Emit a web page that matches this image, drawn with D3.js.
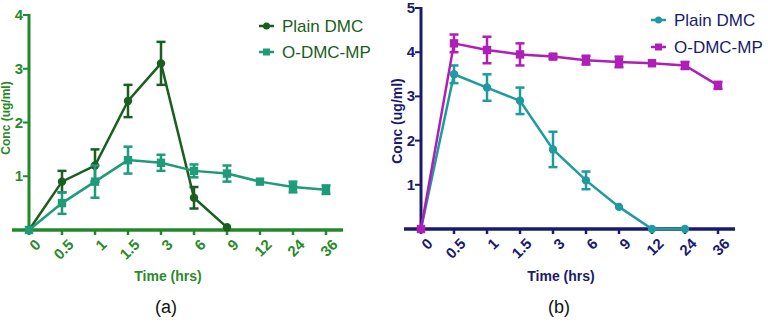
<!DOCTYPE html>
<html>
<head>
<meta charset="utf-8">
<script src="https://cdn.jsdelivr.net/npm/d3@7"></script>
<style>
  body { margin: 0; background: #fff; }
  svg { display: block; font-family: Arial, "Liberation Sans", sans-serif; }
</style>
</head>
<body>
<svg width="768" height="323"></svg>
<script>
// time points (category axis, not linear)
const timeLabels = ["0", "0.5", "1", "1.5", "3", "6", "9", "12", "24", "36"];

// panel (a)
const aPlain = [0, 0.9, 1.2, 2.4, 3.1, 0.6, 0.05];
const aPlainErr = [0, 0.2, 0.3, 0.3, 0.4, 0.2, 0];
const aOdmc = [0, 0.5, 0.9, 1.3, 1.25, 1.1, 1.05, 0.9, 0.8, 0.75];
const aOdmcErr = [0, 0.2, 0.3, 0.25, 0.15, 0.12, 0.15, 0.03, 0.1, 0.08];
const aTicks = [1, 2, 3, 4];

// panel (b)
const bPlain = [0, 3.5, 3.2, 2.9, 1.8, 1.1, 0.5, 0, 0];
const bPlainErr = [0, 0.2, 0.3, 0.3, 0.4, 0.2, 0, 0, 0];
const bOdmc = [0, 4.2, 4.05, 3.95, 3.9, 3.82, 3.78, 3.75, 3.7, 3.25];
const bOdmcErr = [0, 0.2, 0.3, 0.25, 0.05, 0.1, 0.12, 0.03, 0.08, 0.08];
const bTicks = [1, 2, 3, 4, 5];

const svg = d3.select("svg");

function drawPanel(cfg) {
  const g = svg.append("g");
  const x = d3.scalePoint().domain(timeLabels).range(cfg.xRange);
  const y = d3.scaleLinear().domain([0, cfg.yMax]).range(cfg.yRange);
  const x0 = x(timeLabels[0]), x9 = x(timeLabels[timeLabels.length - 1]);

  // y axis
  g.append("line")
    .attr("x1", x0).attr("x2", x0)
    .attr("y1", y(0)).attr("y2", y(cfg.yMax) - 1)
    .attr("stroke", cfg.axis).attr("stroke-width", 3);
  cfg.ticks.forEach((t) => {
    g.append("line")
      .attr("x1", x0 - 6).attr("x2", x0)
      .attr("y1", y(t)).attr("y2", y(t))
      .attr("stroke", cfg.axis).attr("stroke-width", 2);
    g.append("text")
      .attr("x", x0 - 6).attr("y", y(t) + 5)
      .attr("text-anchor", "end")
      .attr("font-size", 15).attr("font-weight", "bold")
      .attr("fill", cfg.tickText)
      .text(t);
  });

  // x axis
  g.append("line")
    .attr("x1", x0 - 17).attr("x2", x9 + 17)
    .attr("y1", y(0)).attr("y2", y(0))
    .attr("stroke", cfg.axis).attr("stroke-width", 3.5);
  timeLabels.forEach((lab) => {
    g.append("line")
      .attr("x1", x(lab)).attr("x2", x(lab))
      .attr("y1", y(0)).attr("y2", y(0) + 5)
      .attr("stroke", cfg.axis).attr("stroke-width", 2.5);
    g.append("text")
      .attr("transform", `translate(${x(lab) + 5},${y(0) + 8}) rotate(-45)`)
      .attr("text-anchor", "end")
      .attr("dy", "0.72em")
      .attr("font-size", 15).attr("font-weight", "bold")
      .attr("fill", cfg.tickText)
      .text(lab);
  });

  // axis titles
  g.append("text")
    .attr("x", cfg.xTitleX).attr("y", 281)
    .attr("text-anchor", "middle")
    .attr("font-size", 14).attr("font-weight", "bold")
    .attr("fill", cfg.tickText)
    .text("Time (hrs)");
  g.append("text")
    .attr("transform", `translate(${cfg.yTitleX},${cfg.yTitleY}) rotate(-90)`)
    .attr("text-anchor", "middle")
    .attr("font-size", cfg.yTitleSize).attr("font-weight", "bold")
    .attr("fill", cfg.tickText)
    .text("Conc (ug/ml)");
  g.append("text")
    .attr("x", cfg.xTitleX - 2).attr("y", 313)
    .attr("text-anchor", "middle")
    .attr("font-size", 18)
    .attr("fill", "#111")
    .text(cfg.panel);

  // series
  cfg.series.forEach((s) => {
    const pts = s.values.map((v, i) => ({ lab: timeLabels[i], v, e: s.err[i] }));
    const line = d3.line().x((d) => x(d.lab)).y((d) => y(d.v));
    g.append("path")
      .attr("d", line(pts))
      .attr("fill", "none")
      .attr("stroke", s.color).attr("stroke-width", 2.5);
    pts.filter((d) => d.e > 0.04).forEach((d) => {
      const cx = x(d.lab);
      const lo = y(d.v - d.e), hi = y(d.v + d.e);
      g.append("line").attr("x1", cx).attr("x2", cx).attr("y1", lo).attr("y2", hi)
        .attr("stroke", s.color).attr("stroke-width", 2.5);
      [lo, hi].forEach((yy) => {
        g.append("line").attr("x1", cx - 4.5).attr("x2", cx + 4.5).attr("y1", yy).attr("y2", yy)
          .attr("stroke", s.color).attr("stroke-width", 2.5);
      });
    });
    pts.forEach((d) => {
      if (s.shape === "circle") {
        g.append("circle").attr("cx", x(d.lab)).attr("cy", y(d.v)).attr("r", 4.2)
          .attr("fill", s.color);
      } else {
        g.append("rect").attr("x", x(d.lab) - 4.2).attr("y", y(d.v) - 4.2)
          .attr("width", 8.4).attr("height", 8.4).attr("fill", s.color);
      }
    });
  });

  // legend
  cfg.series.forEach((s, i) => {
    const ly = cfg.legendY + i * cfg.legendGap;
    g.append("line")
      .attr("x1", cfg.legendX).attr("x2", cfg.legendX + 15)
      .attr("y1", ly).attr("y2", ly)
      .attr("stroke", s.color).attr("stroke-width", 2.5);
    if (s.shape === "circle") {
      g.append("circle").attr("cx", cfg.legendX + 7.5).attr("cy", ly).attr("r", 3.5).attr("fill", s.color);
    } else {
      g.append("rect").attr("x", cfg.legendX + 4).attr("y", ly - 3.5)
        .attr("width", 7).attr("height", 7).attr("fill", s.color);
    }
    g.append("text")
      .attr("x", cfg.legendX + 23).attr("y", ly + 6)
      .attr("font-size", 17)
      .attr("fill", cfg.legendText)
      .text(s.name);
  });
}

drawPanel({
  panel: "(a)",
  xRange: [29, 326],
  yMax: 4,
  yRange: [230, 15],
  ticks: aTicks,
  axis: "#22882a",
  tickText: "#2a8a2a",
  legendText: "#1b5e20",
  xTitleX: 168,
  yTitleX: 10,
  yTitleY: 118,
  yTitleSize: 12,
  legendX: 259,
  legendY: 26,
  legendGap: 26,
  series: [
    { name: "Plain DMC", values: aPlain, err: aPlainErr, color: "#1b5e20", shape: "circle" },
    { name: "O-DMC-MP", values: aOdmc, err: aOdmcErr, color: "#1f9b7a", shape: "square" },
  ],
});

drawPanel({
  panel: "(b)",
  xRange: [421, 718],
  yMax: 5,
  yRange: [229, 8],
  ticks: bTicks,
  axis: "#1a1a6e",
  tickText: "#1a1a6e",
  legendText: "#1a1a6e",
  xTitleX: 561,
  yTitleX: 402,
  yTitleY: 121,
  yTitleSize: 14,
  legendX: 651,
  legendY: 20,
  legendGap: 27,
  series: [
    { name: "Plain DMC", values: bPlain, err: bPlainErr, color: "#1e9aa0", shape: "circle" },
    { name: "O-DMC-MP", values: bOdmc, err: bOdmcErr, color: "#b01eb8", shape: "square" },
  ],
});
</script>
</body>
</html>
